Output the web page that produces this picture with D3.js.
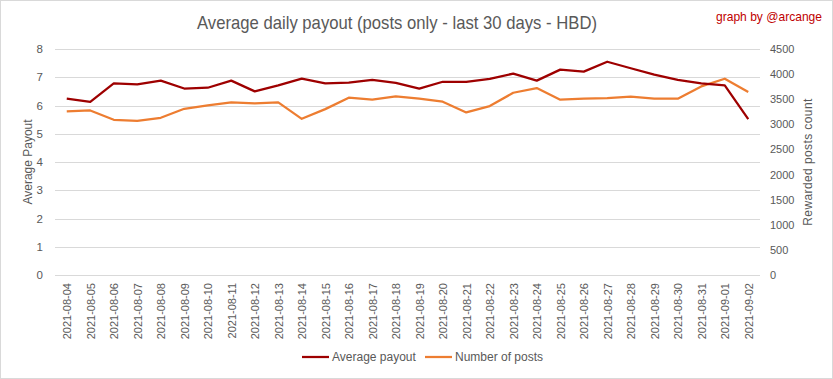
<!DOCTYPE html>
<html><head><meta charset="utf-8">
<script src="https://cdn.jsdelivr.net/npm/d3@7"></script>
<style>
body{margin:0;background:#fff;}
svg{display:block;font-family:"Liberation Sans",Arial,sans-serif;}
</style></head><body>
<svg id="c" width="833" height="379"></svg>
<script>
const dates = ["2021-08-04","2021-08-05","2021-08-06","2021-08-07","2021-08-08","2021-08-09","2021-08-10","2021-08-11","2021-08-12","2021-08-13","2021-08-14","2021-08-15","2021-08-16","2021-08-17","2021-08-18","2021-08-19","2021-08-20","2021-08-21","2021-08-22","2021-08-23","2021-08-24","2021-08-25","2021-08-26","2021-08-27","2021-08-28","2021-08-29","2021-08-30","2021-08-31","2021-09-01","2021-09-02"];
const avgPayout = [6.24,6.13,6.78,6.75,6.88,6.60,6.63,6.88,6.50,6.71,6.95,6.78,6.81,6.91,6.80,6.60,6.84,6.84,6.94,7.13,6.88,7.27,7.20,7.55,7.32,7.09,6.91,6.78,6.71,5.52];
const postCount = [3256,3276,3090,3070,3130,3310,3376,3436,3416,3436,3110,3303,3530,3490,3556,3510,3450,3237,3363,3629,3722,3490,3510,3523,3550,3510,3510,3755,3908,3643];
const leftTicks = [0,1,2,3,4,5,6,7,8];
const rightTicks = [0,500,1000,1500,2000,2500,3000,3500,4000,4500];

const svg = d3.select("#c");
const W = 833, H = 379;
const m = {left:55, right:73, top:49, bottom:104};
const textCol = "#595959";
const redCol = "#9e0000", orCol = "#ed7d31";

svg.append("rect").attr("x",0.5).attr("y",0.5).attr("width",W-1).attr("height",H-1)
  .attr("fill","#fff").attr("stroke","#d9d9d9");

const x = d3.scalePoint().domain(dates).range([m.left, W-m.right]).padding(0.5);
const yL = d3.scaleLinear().domain([0,8]).range([H-m.bottom, m.top]);
const yR = d3.scaleLinear().domain([0,4500]).range([H-m.bottom, m.top]);

// gridlines
svg.append("g").selectAll("line").data(leftTicks).join("line")
  .attr("x1",m.left).attr("x2",W-m.right)
  .attr("y1",d=>Math.round(yL(d))+0.5).attr("y2",d=>Math.round(yL(d))+0.5)
  .attr("stroke","#d9d9d9").attr("stroke-width",1);

// left axis
const la = svg.append("g").attr("transform",`translate(${m.left},0)`)
  .call(d3.axisLeft(yL).tickValues(leftTicks).tickSize(0).tickPadding(12).tickFormat(d3.format("d")));
la.select(".domain").remove();
la.selectAll("text").attr("fill",textCol).style("font-size","11.5px");

// right axis
const ra = svg.append("g").attr("transform",`translate(${W-m.right},0)`)
  .call(d3.axisRight(yR).tickValues(rightTicks).tickSize(0).tickPadding(10).tickFormat(d3.format("d")));
ra.select(".domain").remove();
ra.selectAll("text").attr("fill",textCol).style("font-size","11px");

// x axis
const xa = svg.append("g").attr("transform",`translate(0,${H-m.bottom})`)
  .call(d3.axisBottom(x).tickSize(0).tickPadding(0));
xa.select(".domain").remove();
xa.selectAll("text").attr("fill",textCol).style("font-size","11px")
  .attr("transform","rotate(-90)").attr("text-anchor","end")
  .attr("x",-8).attr("y",0).attr("dy","0.35em");

// lines
const lineL = d3.line().x((d,i)=>x(dates[i])).y(d=>yL(d));
const lineR = d3.line().x((d,i)=>x(dates[i])).y(d=>yR(d));
svg.append("path").datum(postCount).attr("d",lineR).attr("fill","none")
  .attr("stroke",orCol).attr("stroke-width",2.25).attr("stroke-linejoin","round");
svg.append("path").datum(avgPayout).attr("d",lineL).attr("fill","none")
  .attr("stroke",redCol).attr("stroke-width",2.25).attr("stroke-linejoin","round");

// title
svg.append("text").attr("x",397).attr("y",29).attr("text-anchor","middle")
  .attr("fill",textCol).style("font-size","19px")
  .attr("textLength",400).attr("lengthAdjust","spacingAndGlyphs")
  .text("Average daily payout (posts only - last 30 days - HBD)");
svg.append("text").attr("x",822).attr("y",21).attr("text-anchor","end")
  .attr("fill","#c00000").style("font-size","13px")
  .attr("textLength",106).attr("lengthAdjust","spacingAndGlyphs")
  .text("graph by @arcange");

// axis titles
svg.append("text").attr("transform",`translate(32,${(yL(0)+yL(8))/2}) rotate(-90)`)
  .attr("text-anchor","middle").attr("fill",textCol).style("font-size","12px")
  .text("Average Payout");
svg.append("text").attr("transform",`translate(812,${(yL(0)+yL(8))/2}) rotate(-90)`)
  .attr("text-anchor","middle").attr("fill",textCol).style("font-size","12px")
  .style("letter-spacing","0.4px").text("Rewarded posts count");

// legend
const legend = [{name:"Average payout",col:redCol,x:302},{name:"Number of posts",col:orCol,x:425}];
const lg = svg.append("g").selectAll("g").data(legend).join("g");
lg.append("line").attr("x1",d=>d.x).attr("x2",d=>d.x+27).attr("y1",357).attr("y2",357)
  .attr("stroke",d=>d.col).attr("stroke-width",2.25);
lg.append("text").attr("x",d=>d.x+30).attr("y",357).attr("dy","0.35em")
  .attr("fill",textCol).style("font-size","12px").text(d=>d.name);
</script></body></html>
